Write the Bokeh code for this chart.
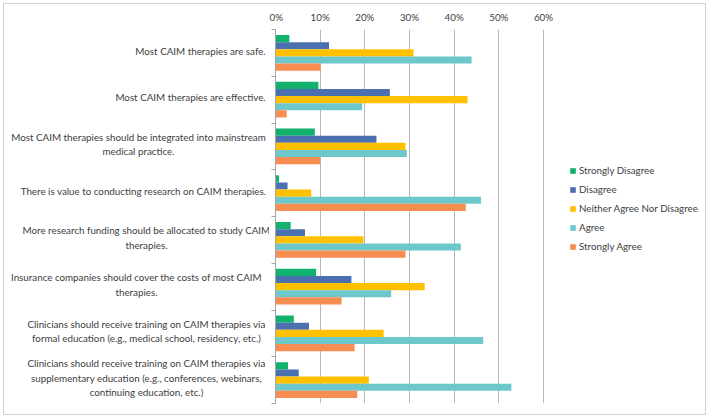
from bokeh.plotting import figure
from bokeh.models import Range1d, FixedTicker, Legend, LegendItem
from bokeh.layouts import row
from bokeh.core.properties import value
from bokeh.embed import file_html
from bokeh.resources import INLINE

categories = [
    "Most CAIM therapies are safe.",
    "Most CAIM therapies are effective.",
    "Most CAIM therapies should be integrated into mainstream\nmedical practice.",
    "There is value to conducting research on CAIM therapies.",
    "More research funding should be allocated to study CAIM\ntherapies.",
    "Insurance companies should cover the costs of most CAIM\ntherapies.",
    "Clinicians should receive training on CAIM therapies via\nformal education (e.g., medical school, residency, etc.)",
    "Clinicians should receive training on CAIM therapies via\nsupplementary education (e.g., conferences, webinars,\ncontinuing education, etc.)",
]
series_names = ["Strongly Disagree", "Disagree", "Neither Agree Nor Disagree", "Agree", "Strongly Agree"]
strongly_disagree = [3.1, 9.6, 8.8, 0.8, 3.4, 9.1, 4.1, 2.8]
disagree = [12.0, 25.6, 22.6, 2.7, 6.6, 17.0, 7.5, 5.2]
neither = [30.9, 43.0, 29.1, 8.0, 19.7, 33.4, 24.2, 20.9]
agree = [43.9, 19.4, 29.4, 46.0, 41.5, 25.9, 46.5, 52.8]
strongly_agree = [10.1, 2.5, 10.0, 42.6, 29.1, 14.8, 17.7, 18.3]
x_ticks = [0, 10, 20, 30, 40, 50, 60]
x_tick_labels = ["0%", "10%", "20%", "30%", "40%", "50%", "60%"]

colors = ["#12B26C", "#4A70B0", "#FFC000", "#6DC8CB", "#F88D52"]
FONT = "Lato"
FS = "9.8px"
TEXT = "#404040"

OFF = 4                      # page offset (3px margin + 1px border)
INNER_W, INNER_H = 701, 410
LEFT_W = 265                 # width of the label column
top_b, bot_b = 29 - OFF, (OFF + INNER_H) - 403
ppu = (543 - 275) / 60.0     # px per percent
x_end = 60 + (704 - 543) / ppu

y_rng = Range1d(len(categories), 0)

# ---- label column ----
lab = figure(width=LEFT_W, height=INNER_H, output_backend="svg", toolbar_location=None,
             x_range=Range1d(0, LEFT_W), y_range=y_rng,
             min_border_left=0, min_border_right=0,
             min_border_top=top_b, min_border_bottom=bot_b)
lab.axis.visible = False
lab.grid.visible = False
lab.outline_line_color = None
label_center_px = [200, 190, 138, 143, 146, 136, 146, 146]
lab.text(x=[c - OFF for c in label_center_px], y=[i + 0.45 for i in range(len(categories))],
         text=categories, text_align="center", text_baseline="middle",
         text_font=value(FONT), text_font_size=FS, text_color=TEXT, text_line_height=1.22)

# ---- main chart ----
main_w = INNER_W - LEFT_W
p = figure(width=main_w, height=INNER_H, output_backend="svg", toolbar_location=None,
           x_range=Range1d(0, x_end), y_range=y_rng,
           x_axis_location="above",
           min_border_left=6, min_border_right=1,
           min_border_top=top_b, min_border_bottom=bot_b)
p.outline_line_color = None

all_series = [strongly_disagree, disagree, neither, agree, strongly_agree]
bar_h = 0.152
items = []
for j, (name, vals) in enumerate(zip(series_names, all_series)):
    ys = [i + 0.5 + (j - 2) * bar_h for i in range(len(categories))]
    r = p.hbar(y=ys, right=vals, left=0, height=bar_h, color=colors[j], line_color=None)
    items.append(LegendItem(label=name, renderers=[r]))

xa = p.xaxis[0]
xa.ticker = FixedTicker(ticks=x_ticks)
xa.major_label_overrides = {t: l for t, l in zip(x_ticks, x_tick_labels)}
xa.axis_line_color = None
xa.major_tick_line_color = None
xa.major_tick_out = 0
xa.major_tick_in = 0
xa.minor_tick_line_color = None
xa.minor_tick_out = 0
xa.major_label_text_font = FONT
xa.major_label_text_font_size = FS
xa.major_label_text_color = TEXT
xa.major_label_standoff = 7

ya = p.yaxis[0]
bounds = list(range(len(categories) + 1))
ya.ticker = FixedTicker(ticks=bounds)
ya.major_label_overrides = {b: "" for b in bounds}
ya.major_label_standoff = 0
ya.axis_line_color = "#A6A6A6"
ya.major_tick_line_color = "#A6A6A6"
ya.major_tick_in = 0
ya.major_tick_out = 4
ya.minor_tick_line_color = None

p.xgrid.ticker = FixedTicker(ticks=x_ticks[1:])
p.xgrid.grid_line_color = "#B8B8B8"
p.ygrid.grid_line_color = None

legend = Legend(items=items, location=(294, 151))
legend.glyph_width = 7
legend.glyph_height = 7
legend.label_height = 12
legend.spacing = 7
legend.padding = 0
legend.margin = 0
legend.label_standoff = 3
legend.border_line_color = None
legend.background_fill_alpha = 0
legend.label_text_font = FONT
legend.label_text_font_size = FS
legend.label_text_color = TEXT
p.add_layout(legend, "center")

layout = row(lab, p, styles={"margin": "3px", "border": "1px solid #D0D0D0"})

open("out.html", "w").write(file_html(layout, INLINE))
